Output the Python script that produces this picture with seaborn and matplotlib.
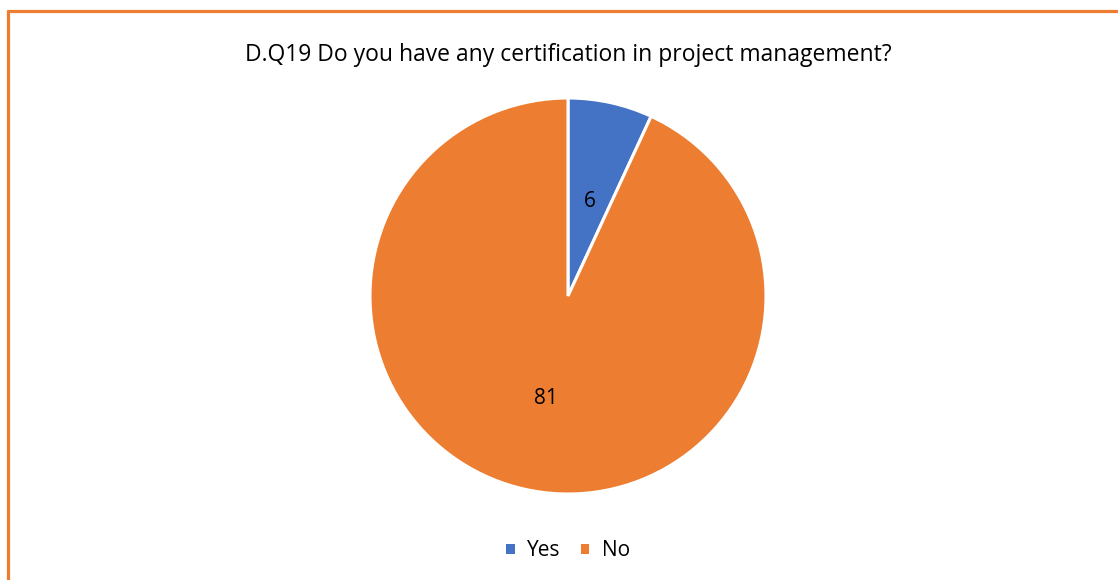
import matplotlib.pyplot as plt
import seaborn as sns
from matplotlib.lines import Line2D
from matplotlib.patches import Patch

sns.set_theme(style='white')
plt.rcParams['font.family'] = ['Open Sans', 'DejaVu Sans']

# Data
labels = ['Yes', 'No']
counts = [6, 81]
colors = ['#4472C4', '#ED7D31']
title = 'D.Q19 Do you have any certification in project management?'

W, H = 1118, 580
fig = plt.figure(figsize=(W / 100, H / 100), dpi=100)
fig.patch.set_facecolor('white')

# pie axes: centre (568, 296) px, radius 198 px
cx, cy, r = 568, 296, 198
ax = fig.add_axes([(cx - r) / W, (H - cy - r) / H, 2 * r / W, 2 * r / H])
wedges, texts = ax.pie(counts, colors=colors, startangle=90, counterclock=False,
                       labels=[str(c) for c in counts], labeldistance=0.51,
                       wedgeprops=dict(edgecolor='white', linewidth=2.2),
                       textprops=dict(fontsize=15, color='black', ha='center', va='center'))
# nudge labels down a little (font metrics differ from the original)
for t in texts:
    x, y = t.get_position()
    t.set_position((x, y - 0.022))
ax.set_xlim(-1, 1)
ax.set_ylim(-1, 1)
ax.set_aspect('equal')

fig.text(cx / W, 1 - 55 / H, title, ha='center', va='center', fontsize=16.5, color='black')

handles = [Patch(facecolor=c, edgecolor='none') for c in colors]
fig.legend(handles, labels, loc='center', bbox_to_anchor=(cx / W, 1 - 551 / H), ncol=2,
           frameon=False, fontsize=15, handlelength=0.42, handleheight=0.42,
           handletextpad=0.6, columnspacing=0.95, labelcolor='black')

# orange chart border (top and left visible)
bc = '#ED7D31'
fig.add_artist(Line2D([8 / W, 8 / W], [1 - 11 / H, -0.1], color=bc, linewidth=2.3, transform=fig.transFigure))
fig.add_artist(Line2D([8 / W, 1.1], [1 - 11 / H, 1 - 11 / H], color=bc, linewidth=2.3, transform=fig.transFigure))

fig.savefig('out.png', dpi=100)
